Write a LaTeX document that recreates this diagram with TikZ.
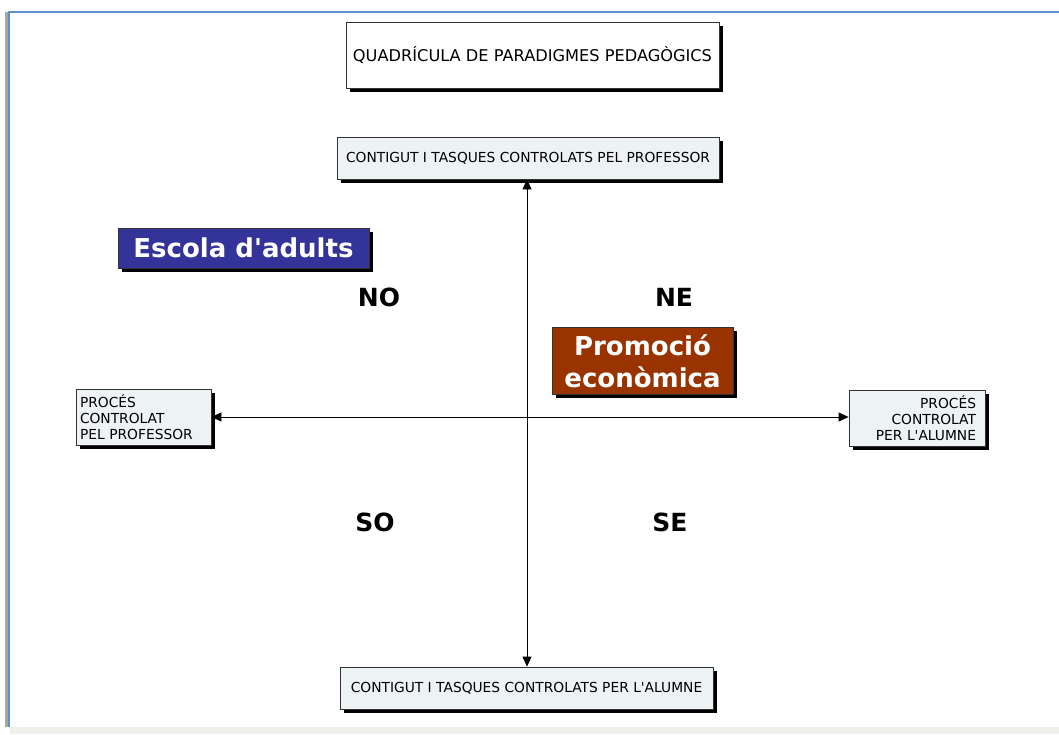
\documentclass[tikz,border=0pt]{standalone}
\usepackage{fontspec}
\setmainfont{DejaVu Sans}
\usetikzlibrary{arrows.meta, positioning, shadows}
\definecolor{framblue}{rgb}{0.36, 0.56, 0.80}
\definecolor{boxgray}{rgb}{0.93, 0.95, 0.96}
\definecolor{escblue}{rgb}{0.2, 0.2, 0.6}
\definecolor{promored}{rgb}{0.6, 0.2, 0.0}
\definecolor{stripgray}{rgb}{0.94, 0.94, 0.92}

\tikzset{
  shadowbox/.style={draw=black!80, line width=0.8pt, inner sep=0pt,
    drop shadow={shadow xshift=3.5pt, shadow yshift=-3.5pt, fill=black, opacity=1}},
  axisbox/.style={shadowbox, fill=boxgray, font=\fontsize{13.8}{16}\selectfont},
  tagbox/.style={shadowbox, text=white, font=\fontsize{26}{32}\bfseries\selectfont},
  quad/.style={font=\fontsize{25}{30}\bfseries\selectfont},
  axis/.style={line width=0.8pt, {Triangle[length=10pt, width=9pt]}-{Triangle[length=10pt, width=9pt]}}
}

\begin{document}
\begin{tikzpicture}[x=1pt, y=-1pt]

  \useasboundingbox (0,0) rectangle (1059,734);

  % frame
  \fill[black!35] (5,12) rectangle (9,727);
  \draw[framblue, line width=1.5pt] (9,727) -- (9,12) -- (1059,12);
  \fill[stripgray] (9.8,727) rectangle (1059,734);

  % title
  \node (title) [shadowbox, fill=white, minimum width=373pt, minimum height=66pt,
    font=\fontsize{16.2}{19}\selectfont] at (532.5,55) {QUADRÍCULA DE PARADIGMES PEDAGÒGICS};

  % axis boxes
  \node (top) [axisbox, minimum width=382pt, minimum height=42pt] at (528,158) {CONTIGUT I TASQUES CONTROLATS PEL PROFESSOR};
  \node (bottom) [axisbox, minimum width=373pt, minimum height=42pt] at (526.5,688) {CONTIGUT I TASQUES CONTROLATS PER L\textquotesingle ALUMNE};
  \node (left) [axisbox, minimum width=135pt, minimum height=56pt, align=left, text width=127pt] at (143.5,417)
    {PROCÉS\\CONTROLAT\\PEL PROFESSOR};
  \node (right) [axisbox, minimum width=136pt, minimum height=56pt, align=right, text width=118pt] at (917,418)
    {PROCÉS\\CONTROLAT\\PER L\textquotesingle ALUMNE};

  \coordinate (centre) at (527,417);
  \draw[axis] (top.south -| centre) -- (bottom.north -| centre);
  \draw[axis] (left.east |- centre) -- (right.west |- centre);

  % quadrants
  \node (no) [quad] at (379,297) {NO};
  \node (ne) [quad] at (674,297) {NE};
  \node (so) [quad] at (375,522) {SO};
  \node (se) [quad] at (670,522) {SE};

  % labels
  \node (escola) [tagbox, fill=escblue, minimum width=251pt, minimum height=40pt] at (243.5,248) {Escola d\textquotesingle adults};
  \node (promo) [tagbox, fill=promored, minimum width=181pt, minimum height=67pt, align=center] at (642.5,361)
    {Promoció\\econòmica};

\end{tikzpicture}
\end{document}
